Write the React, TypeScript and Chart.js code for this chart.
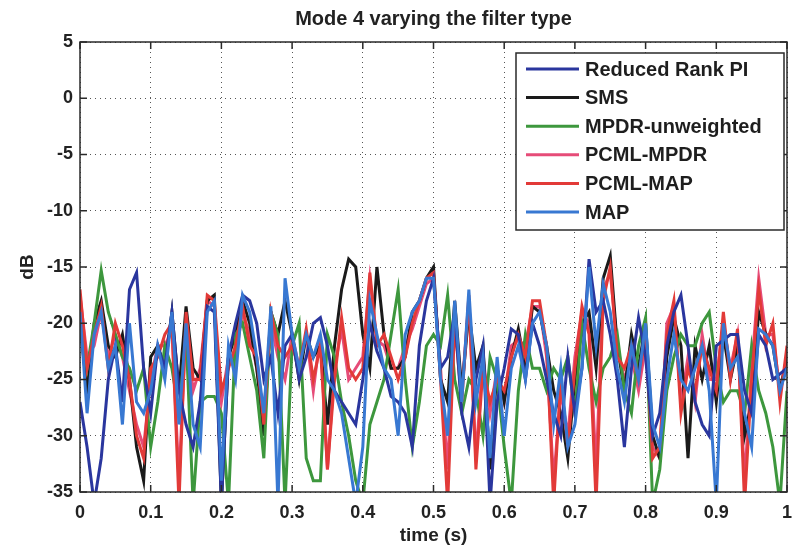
import React, { useEffect, useRef } from "react";
import { Chart, registerables } from "chart.js";
Chart.register(...registerables);

const chartTitle = "Mode 4 varying the filter type";
const xAxisLabel = "time (s)";
const yAxisLabel = "dB";

const times = [
  0, 0.01, 0.02, 0.03, 0.04, 0.05, 0.06, 0.07, 0.08, 0.09,
  0.1, 0.11, 0.12, 0.13, 0.14, 0.15, 0.16, 0.17, 0.18, 0.19,
  0.2, 0.21, 0.22, 0.23, 0.24, 0.25, 0.26, 0.27, 0.28, 0.29,
  0.3, 0.31, 0.32, 0.33, 0.34, 0.35, 0.36, 0.37, 0.38, 0.39,
  0.4, 0.41, 0.42, 0.43, 0.44, 0.45, 0.46, 0.47, 0.48, 0.49,
  0.5, 0.51, 0.52, 0.53, 0.54, 0.55, 0.56, 0.57, 0.58, 0.59,
  0.6, 0.61, 0.62, 0.63, 0.64, 0.65, 0.66, 0.67, 0.68, 0.69,
  0.7, 0.71, 0.72, 0.73, 0.74, 0.75, 0.76, 0.77, 0.78, 0.79,
  0.8, 0.81, 0.82, 0.83, 0.84, 0.85, 0.86, 0.87, 0.88, 0.89,
  0.9, 0.91, 0.92, 0.93, 0.94, 0.95, 0.96, 0.97, 0.98, 0.99, 1,
];

const xTickLabels = ["0", "0.1", "0.2", "0.3", "0.4", "0.5", "0.6", "0.7", "0.8", "0.9", "1"];

const reducedRankPI = [
  -27, -31, -36, -32, -25, -22, -27, -17, -15.5, -24,
  -28, -22, -24, -19, -26, -29, -31, -27, -18.5, -19,
  -36, -23, -20, -17.5, -18, -20, -25, -23, -28, -22,
  -21, -25, -23, -20, -19.5, -22, -26, -27, -28, -29,
  -25, -20, -22.5, -24, -26.5, -27, -28, -31, -22, -18,
  -16, -24, -23, -19, -28, -31, -25, -22, -36, -27,
  -24, -20.5, -21, -25, -20, -22, -25, -28, -30, -23,
  -28, -24, -14.3, -19, -18, -21, -25, -31, -24, -19.5,
  -23, -30, -28, -22, -19, -17.5, -22, -27, -29, -30,
  -22, -21.5, -21, -21, -26, -28, -21, -22, -25, -24.5, -24,
];

const sms = [
  -20, -26, -20, -18, -22, -23, -21, -25, -31, -34,
  -23, -22, -24, -19, -26, -18.5, -24, -25, -18, -17.5,
  -36, -23, -21, -18, -20, -24, -30, -19, -21, -18,
  -21, -25, -21, -23, -22, -29, -22, -17, -14.3, -15,
  -21, -24, -15, -21, -24, -24, -23, -19, -18, -16,
  -15, -25, -27, -18, -26, -19, -24, -22, -33, -24,
  -27, -23, -20.5, -24, -18.5, -19, -22, -26, -28, -32,
  -25, -20, -19, -24, -16, -14, -22, -26, -21, -24,
  -20, -30, -32, -23, -19.5, -22, -32, -22, -25, -22,
  -27, -21, -25, -22, -30, -27, -19, -21, -22, -26, -23,
];

const mpdrUnweighted = [
  -20, -24, -20, -15.3, -19, -21, -23, -24, -26, -24,
  -31, -27, -22, -24, -28, -21, -36, -27, -26.5, -26.5,
  -28, -36, -21, -20, -23, -26, -32, -19, -21, -36,
  -22, -20, -32, -34, -34, -21, -23, -27, -30, -34,
  -36, -29, -27, -25, -21, -17, -25, -31, -27, -22,
  -21, -22, -17.5, -25, -28, -25, -26, -30, -23, -25,
  -31, -36, -26, -21, -24, -24, -26, -24, -25, -23,
  -28, -20, -24, -27, -24, -23, -21, -26, -28, -22,
  -19.5, -36, -33, -26, -23, -21, -22, -22, -20, -19,
  -24, -27, -26, -26, -28, -22, -26, -28, -31, -36, -26,
];

const pcmlMpdr = [
  -17.5, -23, -22, -19, -23, -21, -23, -26, -29, -31,
  -25, -22, -22, -20.5, -34, -20, -26, -24, -18, -18.5,
  -27, -23, -23, -19, -21, -24, -28, -20, -23, -25,
  -21, -24, -21, -26, -21, -33, -24, -20.5, -25, -24,
  -23, -16, -21.5, -22, -24, -24, -22, -20.5, -18.5, -16.5,
  -16, -24, -33, -19, -26, -18, -32, -23, -28, -24,
  -27, -22, -21.5, -22, -18.5, -18.5, -23, -34, -26, -30,
  -23, -19, -20, -33, -17, -15.5, -22, -25, -23, -26,
  -22, -31, -32, -20, -18.5, -27, -23, -27, -21, -25,
  -25, -20, -24, -21, -34, -24, -16, -21, -21, -26, -23,
];

const pcmlMap = [
  -17, -24, -21, -18.5, -24, -20, -22, -25, -30, -32,
  -24, -23, -21, -20, -36, -19, -25, -25, -17.5, -18,
  -26, -24, -22, -18.5, -22, -23, -29, -19, -22, -23,
  -22, -24, -20.5, -25, -22, -33, -25, -19.5, -24, -25,
  -24, -15.5, -22, -21, -23, -25, -23, -20, -18, -16,
  -15.5, -25, -36, -20, -27, -17.5, -33, -24, -27, -25,
  -26, -23, -21, -23, -18, -18, -22, -36, -25, -31,
  -24, -18.5, -21, -36, -18, -15, -23, -24, -22, -25,
  -21, -32, -31, -21, -18, -28, -24, -26, -22, -24,
  -26, -19, -25, -20.5, -36, -25, -17, -22, -20, -27, -22,
];

const mapSeries = [
  -19, -28, -21, -19, -24, -22, -29, -20, -27, -28,
  -26, -22, -25, -19, -29, -20, -29, -31, -19, -18,
  -34, -22, -25, -17.5, -19, -23, -28, -18.5, -36, -16,
  -21, -24, -21, -23, -21, -25, -26, -28, -32, -36,
  -31, -18, -21, -24, -25, -30, -21, -19, -18, -16,
  -16, -25, -30, -18, -27, -17, -27, -23, -32, -23,
  -30, -24, -22, -25, -20, -19, -22, -29, -24, -31,
  -29, -24, -15, -22, -16.5, -19, -24, -27, -22, -25,
  -20, -29, -31, -25, -21, -25, -26, -24, -22, -26,
  -36, -20, -24, -23, -28, -31, -20.5, -21, -22, -26, -24,
];

const seriesNames = [
  "Reduced Rank PI",
  "SMS",
  "MPDR-unweighted",
  "PCML-MPDR",
  "PCML-MAP",
  "MAP",
];
const seriesValues = [reducedRankPI, sms, mpdrUnweighted, pcmlMpdr, pcmlMap, mapSeries];
const seriesColors = ["#2a369e", "#1a1a1a", "#3d973d", "#e64c78", "#e23a38", "#3878d2"];
const drawOrder = [1, 4, 3, 5, 2, 0];

const FONT = '"Liberation Sans", Arial, Helvetica, sans-serif';

const framePlugin = {
  id: "matlabFrame",
  afterDatasetsDraw(chart: any) {
    const { ctx, chartArea, scales } = chart;
    const { left, right, top, bottom } = chartArea;
    ctx.save();
    ctx.strokeStyle = "#2a2a2a";
    ctx.lineWidth = 1.5;
    ctx.setLineDash([]);
    ctx.strokeRect(left, top, right - left, bottom - top);
    const tl = 7;
    ctx.beginPath();
    scales.x.ticks.forEach((t: any) => {
      const px = scales.x.getPixelForValue(t.value);
      ctx.moveTo(px, bottom);
      ctx.lineTo(px, bottom - tl);
      ctx.moveTo(px, top);
      ctx.lineTo(px, top + tl);
    });
    scales.y.ticks.forEach((t: any) => {
      const py = scales.y.getPixelForValue(t.value);
      ctx.moveTo(left, py);
      ctx.lineTo(left + tl, py);
      ctx.moveTo(right, py);
      ctx.lineTo(right - tl, py);
    });
    ctx.stroke();
    ctx.restore();
  },
};

const legendPlugin = {
  id: "boxLegend",
  afterDraw(chart: any) {
    const { ctx, chartArea } = chart;
    const w = 268;
    const h = 177;
    const x0 = chartArea.right - 3 - w;
    const y0 = chartArea.top + 11;
    ctx.save();
    ctx.fillStyle = "#ffffff";
    ctx.fillRect(x0, y0, w, h);
    ctx.strokeStyle = "#2a2a2a";
    ctx.lineWidth = 1.5;
    ctx.strokeRect(x0, y0, w, h);
    ctx.font = `bold 20px ${FONT}`;
    ctx.textBaseline = "middle";
    ctx.textAlign = "left";
    seriesNames.forEach((name, i) => {
      const y = y0 + 16 + i * 28.6;
      ctx.strokeStyle = seriesColors[i];
      ctx.lineWidth = 3;
      ctx.beginPath();
      ctx.moveTo(x0 + 10, y);
      ctx.lineTo(x0 + 63, y);
      ctx.stroke();
      ctx.fillStyle = "#1e1e1e";
      ctx.fillText(name, x0 + 69, y + 1);
    });
    ctx.restore();
  },
};

export default function App() {
  const canvasRef = useRef<HTMLCanvasElement | null>(null);

  useEffect(() => {
    if (!canvasRef.current) return;
    const datasets = seriesNames.map((name, i) => ({
      label: name,
      data: times.map((t, j) => ({ x: t, y: seriesValues[i][j] })),
      borderColor: seriesColors[i],
      backgroundColor: seriesColors[i],
      borderWidth: 3,
      pointRadius: 0,
      tension: 0,
      fill: false,
      order: drawOrder[i],
    }));

    const chart = new Chart(canvasRef.current, {
      type: "line",
      data: { datasets },
      plugins: [framePlugin, legendPlugin],
      options: {
        animation: false,
        responsive: false,
        maintainAspectRatio: false,
        layout: { padding: { left: 0, right: 6, top: 0, bottom: 0 } },
        plugins: {
          legend: { display: false },
          tooltip: { enabled: false },
          title: {
            display: true,
            fullSize: false,
            text: chartTitle,
            color: "#222",
            font: { family: FONT, size: 20, weight: "bold", lineHeight: 1.2 },
            padding: { top: 7, bottom: 11 },
          },
        },
        scales: {
          x: {
            type: "linear",
            min: 0,
            max: 1,
            ticks: {
              stepSize: 0.1,
              color: "#222",
              padding: 10,
              maxRotation: 0,
              font: { family: FONT, size: 18, weight: "bold" },
              callback: (_v: any, i: number) => xTickLabels[i] ?? "",
            },
            grid: { color: "#555", lineWidth: 1, drawTicks: false },
            border: { display: false, dash: [1, 4] },
            title: {
              display: true,
              text: xAxisLabel,
              color: "#222",
              font: { family: FONT, size: 19, weight: "bold", lineHeight: 1.2 },
              padding: { top: 0, bottom: 3 },
            },
            afterFit(scale: any) {
              scale.height = 58;
              scale.paddingRight = 0;
              scale.paddingLeft = 0;
            },
          },
          y: {
            type: "linear",
            min: -35,
            max: 5,
            ticks: {
              stepSize: 5,
              color: "#222",
              padding: 7,
              font: { family: FONT, size: 18, weight: "bold" },
            },
            grid: { color: "#555", lineWidth: 1, drawTicks: false },
            border: { display: false, dash: [1, 4] },
            title: {
              display: true,
              text: yAxisLabel,
              color: "#222",
              font: { family: FONT, size: 19, weight: "bold", lineHeight: 1.2 },
              padding: { top: 16.6, bottom: 0 },
            },
            afterFit(scale: any) {
              scale.width = 80;
            },
          },
        },
      },
    } as any);

    return () => {
      chart.destroy();
    };
  }, []);

  return (
    <div style={{ position: "fixed", left: 0, top: 0, width: 793, height: 550, background: "#fff" }}>
      <canvas ref={canvasRef} width={793} height={550} style={{ width: 793, height: 550, display: "block" }} />
    </div>
  );
}
